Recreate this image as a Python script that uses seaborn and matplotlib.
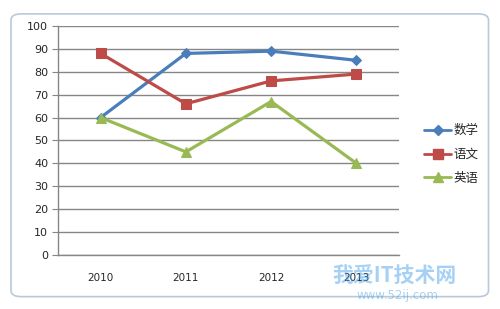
import matplotlib
matplotlib.use("Agg")
import matplotlib.pyplot as plt
from matplotlib.patches import FancyBboxPatch
import seaborn as sns
import pandas as pd

years = ["2010", "2011", "2012", "2013"]
math_scores = [60, 88, 89, 85]
chinese_scores = [88, 66, 76, 79]
english_scores = [60, 45, 67, 40]
series_names = ["数学", "语文", "英语"]
y_ticks = [0, 10, 20, 30, 40, 50, 60, 70, 80, 90, 100]

df = pd.DataFrame({
    "year": years * 3,
    "score": math_scores + chinese_scores + english_scores,
    "subject": [series_names[0]] * 4 + [series_names[1]] * 4 + [series_names[2]] * 4,
})

sns.set_style("white")
plt.rcParams["font.family"] = ["DejaVu Sans", "Noto Sans CJK SC"]

fig = plt.figure(figsize=(5.0, 3.09), dpi=100)
fig.patch.set_facecolor("white")

# chart area border (rounded frame like Excel)
frame = FancyBboxPatch((0.022, 0.04), 0.955, 0.915, boxstyle="round,pad=0,rounding_size=0.02",
                       transform=fig.transFigure, facecolor="white", edgecolor="#b9c9d8",
                       linewidth=1.2, zorder=-5)
fig.patches.append(frame)

ax = fig.add_axes([0.116, 0.175, 0.682, 0.741])
ax.set_facecolor("none")
ax.set_zorder(2)

palette = {"数学": "#4A7EBB", "语文": "#BE4B48", "英语": "#98B954"}
markers = {"数学": "D", "语文": "s", "英语": "^"}
sizes_map = {"数学": 5.5, "语文": 7.5, "英语": 7.5}

sns.lineplot(data=df, x="year", y="score", hue="subject", style="subject",
             palette=palette, markers=markers, dashes=False, linewidth=2.3,
             ax=ax, sort=False, legend=False)
for line, name in zip(ax.lines, series_names):
    line.set_markersize(sizes_map[name])
    line.set_markeredgecolor(palette[name])

ax.set_ylim(0, 100)
ax.set_xlim(-0.5, 3.5)
ax.set_yticks(y_ticks)
ax.set_yticklabels([str(v) for v in y_ticks], fontsize=8)
ax.set_xticks(range(len(years)))
ax.set_xticklabels(years, fontsize=7.5)
ax.set_xticks([-0.5, 0.5, 1.5, 2.5, 3.5], minor=True)
ax.tick_params(axis="x", which="major", length=0, pad=13)
ax.tick_params(axis="x", which="minor", length=4, color="#868686", direction="out")
ax.tick_params(axis="y", length=4, color="#868686", direction="out", pad=3, left=True)
ax.set_xlabel("")
ax.set_ylabel("")
ax.yaxis.grid(True, color="#868686", linewidth=1.0)
ax.set_axisbelow(True)
for s in ["top", "right"]:
    ax.spines[s].set_visible(False)
for s in ["left", "bottom"]:
    ax.spines[s].set_color("#868686")
    ax.spines[s].set_linewidth(1.0)

handles = [plt.Line2D([], [], color=palette[n], marker=markers[n], markersize=sizes_map[n] - 0.5,
                      linewidth=2.0, markeredgecolor=palette[n]) for n in series_names]
fig.legend(handles, series_names, loc="center left", bbox_to_anchor=(0.825, 0.5),
           frameon=False, handlelength=2.2, handletextpad=0.2, labelspacing=0.85,
           prop={"family": ["Noto Sans CJK SC", "DejaVu Sans"], "size": 9})

# watermark text
fig.text(0.79, 0.11, "我爱IT技术网", ha="center", va="center", fontsize=15, fontweight="bold",
         color="#3a9be8", alpha=0.45, family=["Noto Sans CJK SC", "DejaVu Sans"], zorder=5)
fig.text(0.795, 0.045, "www.52ij.com", ha="center", va="center", fontsize=8.5,
         color="#3a9be8", alpha=0.45, zorder=5)

fig.savefig("out.png", dpi=100)
